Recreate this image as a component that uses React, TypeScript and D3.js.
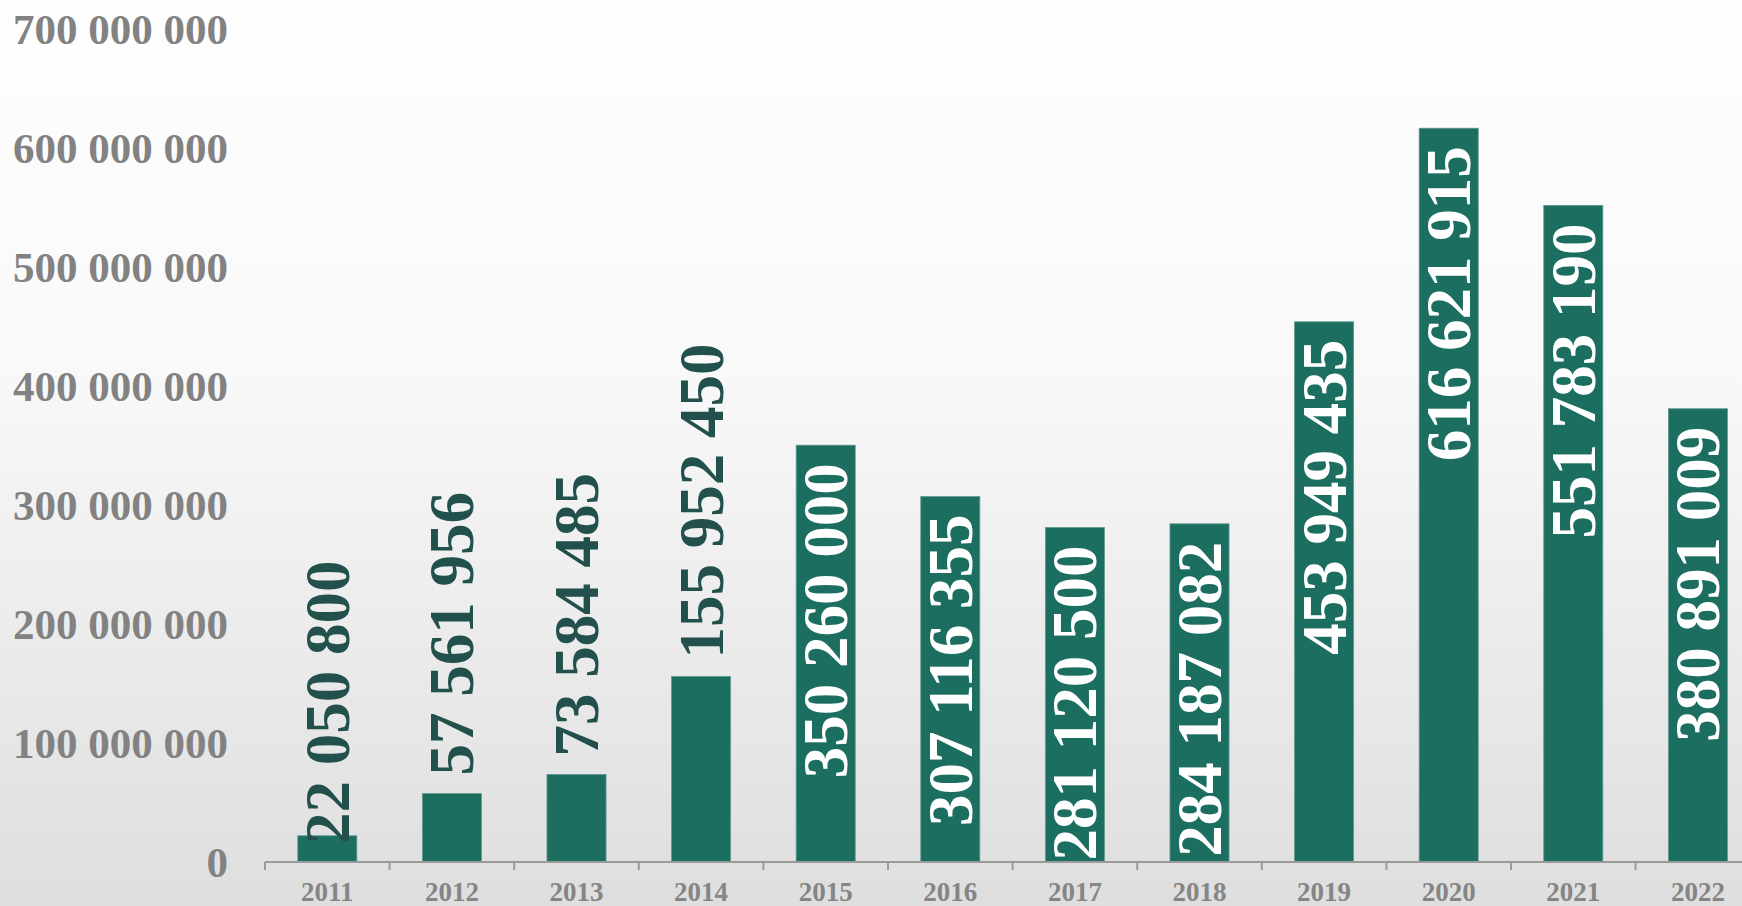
import React from "react";
import * as d3 from "d3";

const years = ["2011","2012","2013","2014","2015","2016","2017","2018","2019","2020","2021","2022"];
const values = [22050800, 57561956, 73584485, 155952450, 350260000, 307116355, 281120500, 284187082, 453949435, 616621915, 551783190, 380891009];
// label placement per bar: base = inside base, out = outside end, in = inside end
const placements = ["base","out","out","out","in","in","in","in","in","in","in","in"];
const yTicks = [0, 100000000, 200000000, 300000000, 400000000, 500000000, 600000000, 700000000];

const W = 1742, H = 906;
const fmt = (v: number) => d3.format(",")(v).replace(/,/g, " ");

export default function App() {
  const x0 = 265, step = 124.6;
  const x = d3.scaleBand<string>().domain(years).range([x0, x0 + step * years.length]).paddingInner(0.526).paddingOuter(0.263);
  const y = d3.scaleLinear().domain([0, 700000000]).range([862, 29]);
  const font = "Liberation Serif";
  const gap = 18;
  return (
    <div style={{ position: "fixed", left: 0, top: 0, width: W, height: H }}>
      <svg width={W} height={H} style={{ display: "block" }}>
        <defs>
          <linearGradient id="bg" x1="0" y1="0" x2="0" y2="1">
            <stop offset="0" stopColor="#fefefe" />
            <stop offset="0.4" stopColor="#f9f9f9" />
            <stop offset="1" stopColor="#dedede" />
          </linearGradient>
        </defs>
        <rect x={0} y={0} width={W} height={H} fill="url(#bg)" />
        {yTicks.map(t => (
          <text key={t} x={228} y={y(t)} dy="0.35em" textAnchor="end" style={{ fontFamily: font, fontWeight: 700, fontSize: 43 }} fill="#828282">{fmt(t)}</text>
        ))}
        {years.map((yr, i) => (
          <rect key={yr} x={x(yr)!} y={y(values[i])} width={x.bandwidth()} height={y(0) - y(values[i])} fill="#1c6e61" stroke="#5f9990" strokeWidth={0.8} />
        ))}
        <line x1={x0} x2={W} y1={y(0)} y2={y(0)} stroke="#9a9a9a" strokeWidth={2} />
        {d3.range(years.length + 1).map(k => (
          <line key={k} x1={x0 + k * step} x2={x0 + k * step} y1={y(0)} y2={y(0) + 8} stroke="#9a9a9a" strokeWidth={2} />
        ))}
        {years.map(yr => (
          <text key={yr} x={x(yr)! + x.bandwidth() / 2} y={901} textAnchor="middle" style={{ fontFamily: font, fontWeight: 700, fontSize: 27 }} fill="#858585">{yr}</text>
        ))}
        {years.map((yr, i) => {
          const cx = x(yr)! + x.bandwidth() / 2;
          const p = placements[i];
          let ay: number, anchor: string, color: string;
          if (p === "in") { ay = y(values[i]) + gap; anchor = "end"; color = "#ffffff"; }
          else if (p === "out") { ay = y(values[i]) - gap; anchor = "start"; color = "#22504c"; }
          else { ay = y(0) - gap; anchor = "start"; color = "#22504c"; }
          return (
            <text key={yr} transform={`translate(${cx},${ay}) rotate(-90)`} dy="0.34em" textAnchor={anchor} style={{ fontFamily: font, fontWeight: 700, fontSize: 63 }} fill={color}>{fmt(values[i])}</text>
          );
        })}
      </svg>
    </div>
  );
}
